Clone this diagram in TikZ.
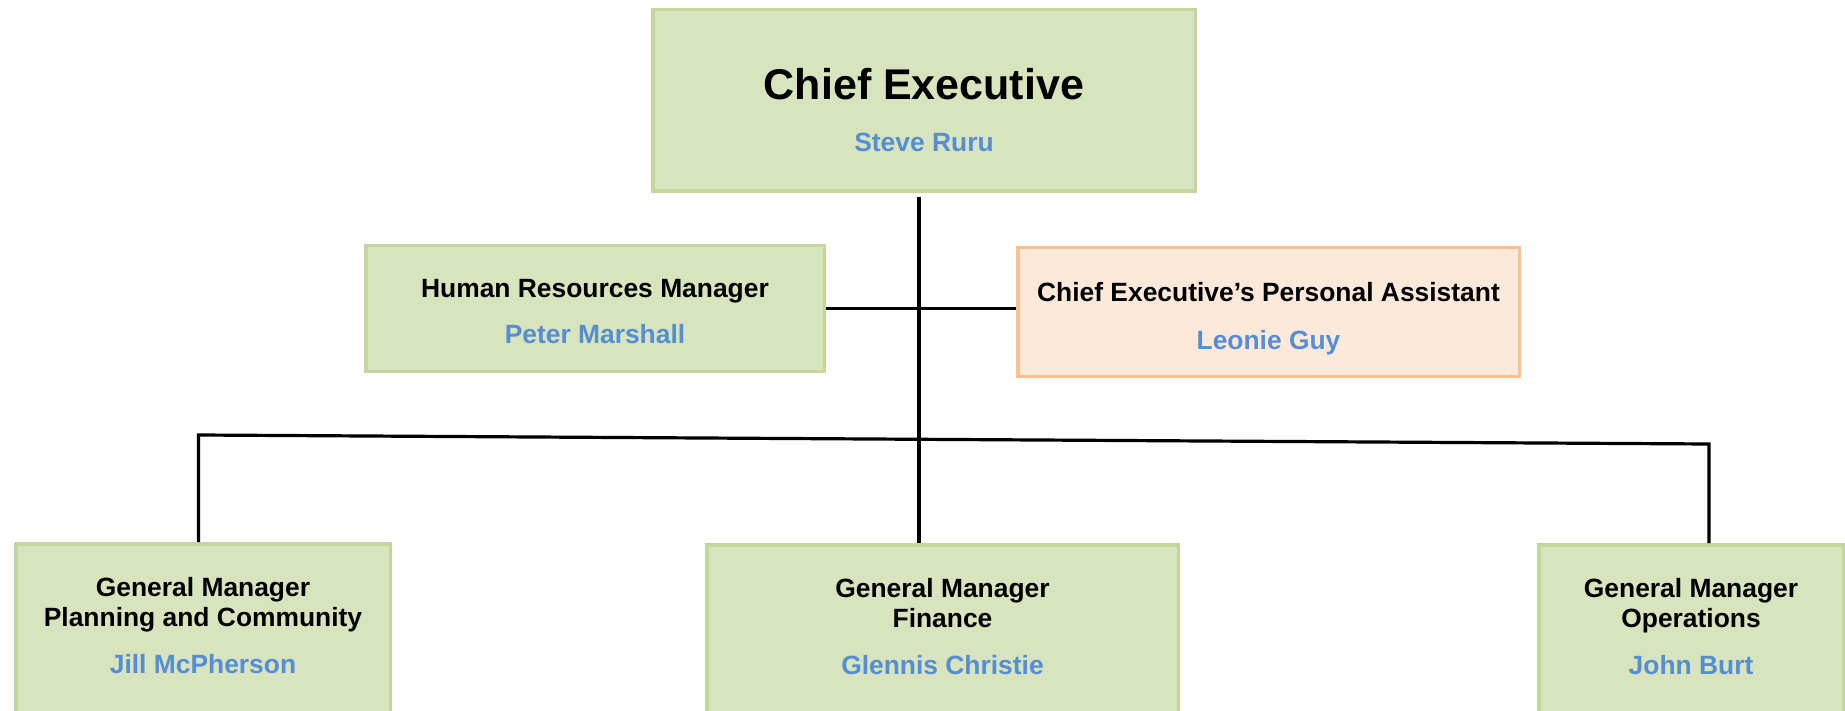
\documentclass[tikz,border=0pt]{standalone}
\usepackage{fontspec}
\setmainfont{Liberation Sans}
\usepackage{tikz}

\definecolor{boxfill}{RGB}{215,228,189}
\definecolor{boxline}{RGB}{195,214,155}
\definecolor{pafill}{RGB}{253,233,217}
\definecolor{paline}{RGB}{250,192,144}
\definecolor{namecol}{RGB}{85,142,213}

\begin{document}
\begin{tikzpicture}[x=1pt,y=1pt,yscale=-1,xscale=1,
  greenbox/.style={draw=boxline,fill=boxfill,line width=3.5pt,inner sep=0pt,align=center},
  pabox/.style={draw=paline,fill=pafill,line width=3.5pt,inner sep=0pt,align=center},
  gmbox/.style={greenbox,text height=129.25pt,text depth=80.75pt,font=\fontsize{26.4}{30}\selectfont\bfseries},
  link/.style={line width=3.2pt}]
\useasboundingbox (0,0) rectangle (1845,711);
\clip (0,0) rectangle (1845,711);

% Chief Executive
\node [greenbox,minimum width=542.5pt,text height=142.25pt,text depth=39.25pt,font=\fontsize{26.4}{52}\selectfont\bfseries] (ceo) at (924,100.5) {{\fontsize{43}{52}\selectfont Chief Executive}\\\textcolor{namecol}{Steve Ruru}};
% Human Resources
\node [greenbox,minimum width=458.5pt,text height=98.25pt,text depth=27.25pt,font=\fontsize{26.4}{47}\selectfont\bfseries] (hr) at (595,308.5) {Human Resources Manager\\\textcolor{namecol}{Peter Marshall}};
% Personal Assistant
\node [pabox,minimum width=501.5pt,text height=101.25pt,text depth=27.25pt,font=\fontsize{26.4}{48}\selectfont\bfseries] (pa) at (1268.5,312) {Chief Executive’s Personal Assistant\\\textcolor{namecol}{Leonie Guy}};

% General Managers
\node [gmbox,minimum width=374.5pt] (gmp) at (203,648.75) {General Manager\\Planning and Community\\[17pt]\textcolor{namecol}{Jill McPherson}};
\node [gmbox,minimum width=471.5pt] (gmf) at (942.5,649.75) {General Manager\\Finance\\[17pt]\textcolor{namecol}{Glennis Christie}};
\node [gmbox,minimum width=304.5pt] (gmo) at (1691,649.75) {General Manager\\Operations\\[17pt]\textcolor{namecol}{John Burt}};

% Lines
\coordinate (spine) at (919,197);
\coordinate (busL) at (198.5,435);
\coordinate (busR) at (1709,444);
\draw [link] (spine) -- (spine |- gmf.north);
\draw [link] (hr.east) -- (hr.east -| pa.west);
\draw [link] (busL |- gmp.north) -- (busL) -- (busR) -- (busR |- gmo.north);

\end{tikzpicture}
\end{document}
